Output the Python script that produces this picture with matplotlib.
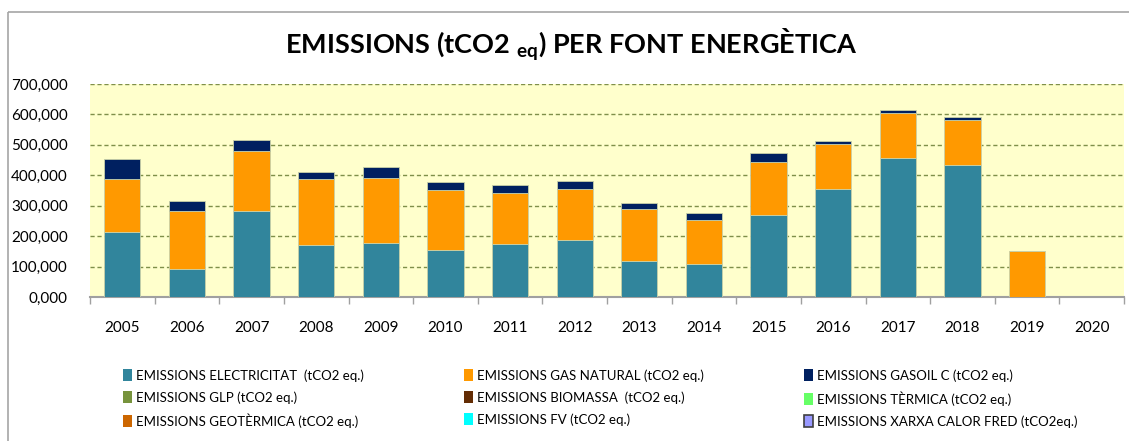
import numpy as np
import matplotlib
matplotlib.use("Agg")
import matplotlib.pyplot as plt
from matplotlib.patches import Rectangle
from matplotlib.ticker import FuncFormatter, FixedLocator

plt.rcParams["font.family"] = ["Lato", "DejaVu Sans"]
plt.rcParams["mathtext.fontset"] = "custom"
plt.rcParams["mathtext.rm"] = "Lato"
plt.rcParams["mathtext.bf"] = "Lato:bold"

# ── data (tCO2 eq.) ──────────────────────────────────────────────────────
years = ["2005", "2006", "2007", "2008", "2009", "2010", "2011", "2012",
         "2013", "2014", "2015", "2016", "2017", "2018", "2019", "2020"]

electricitat = [215000, 91000, 282000, 172000, 176000, 156000, 173000, 186000,
                117000, 109000, 269000, 354000, 456000, 434000, 0, 0]
gas_natural = [173000, 191000, 199000, 216000, 216000, 195000, 170000, 170000,
               171000, 144000, 175000, 149000, 149000, 149000, 151000, 0]
gasoil_c = [65000, 34000, 35000, 22000, 35000, 26000, 26000, 25000,
            21000, 22000, 29000, 9000, 8000, 9000, 0, 0]
glp = [0] * 16
biomassa = [0] * 16
termica = [0] * 16
geotermica = [0] * 16
fv = [0] * 16
xarxa = [0] * 16

# legend columns (each listed top to bottom)
series = [
    ("EMISSIONS ELECTRICITAT  (tCO2 eq.)", electricitat, "#31859C"),
    ("EMISSIONS GLP (tCO2 eq.)", glp, "#77933C"),
    ("EMISSIONS GEOTÈRMICA (tCO2 eq.)", geotermica, "#CC6600"),
    ("EMISSIONS GAS NATURAL (tCO2 eq.)", gas_natural, "#FF9900"),
    ("EMISSIONS BIOMASSA  (tCO2 eq.)", biomassa, "#632C04"),
    ("EMISSIONS FV (tCO2 eq.)", fv, "#00FFFF"),
    ("EMISSIONS GASOIL C (tCO2 eq.)", gasoil_c, "#002060"),
    ("EMISSIONS TÈRMICA (tCO2 eq.)", termica, "#66FF66"),
    ("EMISSIONS XARXA CALOR FRED (tCO2eq.)", xarxa, "#9999FF"),
]
stack_order = [0, 3, 6, 1, 4, 7, 2, 5, 8]

# ── figure ───────────────────────────────────────────────────────────────
W, H = 1129, 441
fig = plt.figure(figsize=(W / 100, H / 100), dpi=100)
fig.patch.set_facecolor("white")

# outer chart border (Excel chart area)
fig.add_artist(Rectangle((8 / W, 1 - 12 / H), 1.2, -1.2, transform=fig.transFigure,
                         fill=False, edgecolor="#A6A6A6", linewidth=1.2))

ax = fig.add_axes([90 / W, 1 - 297 / H, (1124 - 90) / W, (297 - 84) / H])
ax.set_facecolor("#FFFFCC")

x = np.arange(len(years))
bottom = np.zeros(len(years))
handles = {}
for i in stack_order:
    label, vals, color = series[i]
    vals = np.array(vals, dtype=float)
    main = i in (0, 3, 6)
    bc = ax.bar(x, vals, width=0.56, bottom=bottom, color=color,
                edgecolor="#C8D0A8" if main else color,
                linewidth=0.6 if main else 0, label=label, zorder=3)
    handles[i] = bc
    bottom += vals

ax.set_xlim(-0.5, len(years) - 0.5)
ax.set_ylim(0, 700000)
ax.yaxis.set_major_locator(FixedLocator(np.arange(0, 700001, 100000)))
ax.yaxis.set_major_formatter(FuncFormatter(lambda v, p: f"{v / 1000:.3f}".replace(".", ",")))
ax.grid(axis="y", color="#7F8F4A", linestyle=(0, (3, 2)), linewidth=1, zorder=1)

ax.set_xticks(x)
ax.set_xticklabels(years)
ax.set_xticks(np.arange(-0.5, len(years)), minor=True)
ax.tick_params(axis="x", which="major", length=0, pad=17, labelsize=11, colors="black")
ax.tick_params(axis="x", which="minor", length=5, width=1, color="#A0A0A0")
ax.tick_params(axis="y", length=0, pad=16, labelsize=11)

for s in ("top", "right", "left"):
    ax.spines[s].set_visible(False)
ax.spines["bottom"].set_color("#A0A0A0")
ax.spines["bottom"].set_linewidth(1.5)

fig.text(571 / W, 1 - 45 / H, r"EMISSIONS (tCO2 $_{\mathbf{eq}}$) PER FONT ENERGÈTICA",
         ha="center", va="center", fontsize=19.5, fontweight="bold")

# legend: three columns placed like the original
col_x = [118, 459, 799]
for c in range(3):
    idx = [3 * c, 3 * c + 1, 3 * c + 2]
    leg = fig.legend([handles[i] for i in idx], [series[i][0] for i in idx],
                     loc="upper left", bbox_to_anchor=(col_x[c] / W, 1 - 364 / H),
                     frameon=False, fontsize=9.5, handlelength=0.65, handleheight=1.0,
                     handletextpad=0.3, labelspacing=0.72, borderaxespad=0)
    for h in leg.legend_handles:
        h.set_linewidth(0)
    if c == 2:
        leg.legend_handles[2].set_edgecolor("#404040")
        leg.legend_handles[2].set_linewidth(1.2)

fig.savefig("out.png", dpi=100, facecolor="white")
